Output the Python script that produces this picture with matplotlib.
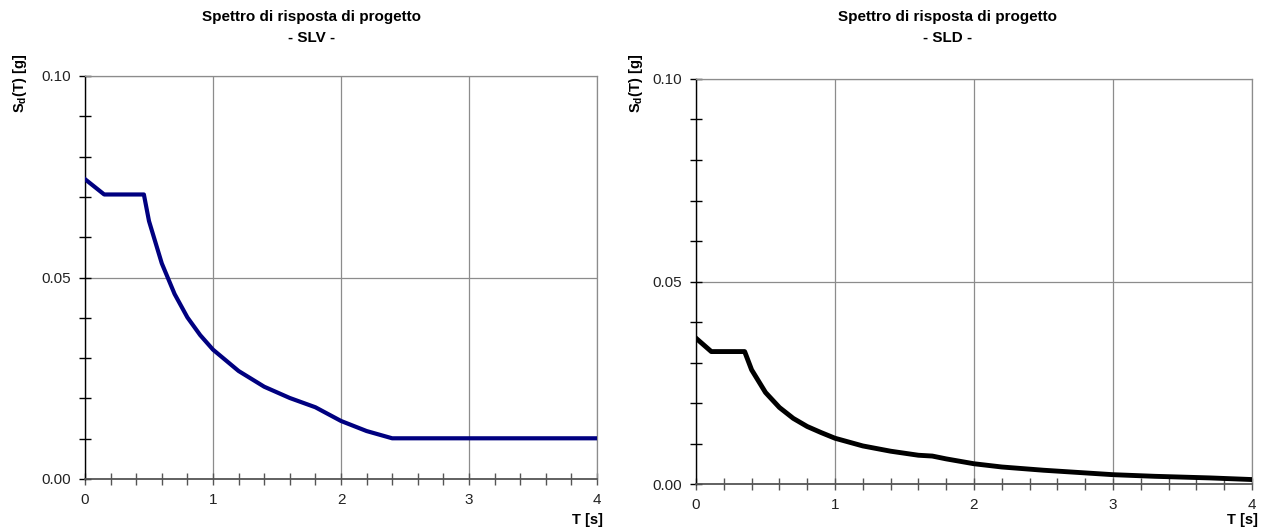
import matplotlib
matplotlib.use('Agg')
import matplotlib.pyplot as plt
from matplotlib.ticker import MultipleLocator, FormatStrFormatter

plt.rcParams['font.family'] = ['Liberation Sans', 'DejaVu Sans']
plt.rcParams['mathtext.fontset'] = 'custom'
plt.rcParams['mathtext.rm'] = 'Liberation Sans'
plt.rcParams['mathtext.bf'] = 'Liberation Sans:bold'

# SLV spectrum
t_slv = [0.0, 0.15, 0.46, 0.5, 0.6, 0.7, 0.8, 0.9, 1.0, 1.2, 1.4, 1.6, 1.8, 2.0, 2.2, 2.4, 4.0]
sd_slv = [0.0744, 0.0706, 0.0706, 0.0640, 0.0535, 0.0459, 0.0401, 0.0357, 0.0321,
          0.0268, 0.0229, 0.0201, 0.0178, 0.0144, 0.0119, 0.0101, 0.0101]

# SLD spectrum
t_sld = [0.0, 0.11, 0.35, 0.4, 0.5, 0.6, 0.7, 0.8, 0.9, 1.0, 1.2, 1.4, 1.6, 1.7,
         1.8, 2.0, 2.2, 2.5, 3.0, 3.3, 3.5, 3.7, 4.0]
sd_sld = [0.0360, 0.0327, 0.0327, 0.0282, 0.0226, 0.0189, 0.0162, 0.0142, 0.0127,
          0.0113, 0.0094, 0.0081, 0.0071, 0.0069, 0.0062, 0.0050, 0.0042, 0.0034,
          0.0023, 0.0019, 0.0017, 0.0015, 0.0011]

title_main = 'Spettro di risposta di progetto'
states = ['- SLV -', '- SLD -']
colors = ['#000080', '#000000']
widths = [3.0, 3.5]

W, H = 1261, 532
fig = plt.figure(figsize=(W / 100, H / 100), dpi=100)

# axes boxes in pixels: x0, x1, ytop, ybottom
boxes = [(85, 597, 76, 479), (696, 1252, 79, 484)]
title_x = [312, 948]
ylab_x = [20, 636]

series = [(t_slv, sd_slv), (t_sld, sd_sld)]
for i, (x0, x1, yt, yb) in enumerate(boxes):
    ax = fig.add_axes([x0 / W, (H - yb) / H, (x1 - x0) / W, (yb - yt) / H])
    t, sd = series[i]
    ax.plot(t, sd, color=colors[i], lw=widths[i], solid_joinstyle='round', zorder=3)
    ax.set_xlim(0, 4)
    ax.set_ylim(0, 0.10)
    ax.xaxis.set_major_locator(MultipleLocator(1))
    ax.xaxis.set_minor_locator(MultipleLocator(0.2))
    ax.yaxis.set_major_locator(MultipleLocator(0.05))
    ax.yaxis.set_minor_locator(MultipleLocator(0.01))
    ax.yaxis.set_major_formatter(FormatStrFormatter('%.2f'))
    ax.grid(True, which='major', color='#8c8c8c', lw=0.9)
    for s in ['top', 'right']:
        ax.spines[s].set_color('#8c8c8c')
        ax.spines[s].set_linewidth(0.9)
    ax.spines['left'].set_color('black')
    ax.spines['bottom'].set_color('#555555')
    ax.spines['left'].set_linewidth(1.0)
    ax.spines['bottom'].set_linewidth(1.3)
    ax.tick_params(axis='y', which='both', direction='inout', length=8, width=1,
                   color='black', labelsize=11, labelcolor='#222222', pad=6)
    ax.tick_params(axis='x', which='both', direction='inout', length=8, width=1,
                   color='#555555', labelsize=11, labelcolor='#222222', pad=6)
    ax.set_axisbelow(True)

    fig.text(title_x[i] / W, 1 - 17 / H, title_main, ha='center', va='center',
             fontsize=11, fontweight='bold')
    fig.text(title_x[i] / W, 1 - 38 / H, states[i], ha='center', va='center',
             fontsize=11, fontweight='bold')
    fig.text(ylab_x[i] / W, 1 - 83 / H, r'S$_{\mathbf{d}}$(T) [g]', rotation=90,
             ha='center', va='center', fontsize=10.5, fontweight='bold')
    fig.text((x1 + 6) / W, 1 - 520 / H, 'T [s]', ha='right', va='center',
             fontsize=10.5, fontweight='bold')

fig.savefig('out.png', dpi=100)
